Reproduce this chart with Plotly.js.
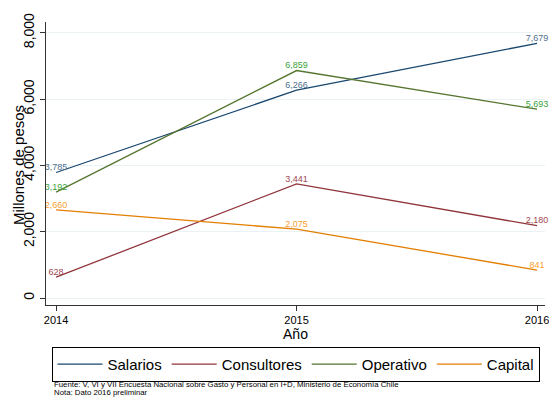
<!DOCTYPE html>
<html>
<head>
<meta charset="utf-8">
<script src="https://cdn.plot.ly/plotly-3.0.1.min.js"></script>
<style>html,body{margin:0;padding:0;background:#fff}#chart{width:549px;height:402px}</style>
</head>
<body>
<div id="chart"></div>
<script>
var years = [2014, 2015, 2016];
var salarios = [3785, 6266, 7679];
var consultores = [628, 3441, 2180];
var operativo = [3192, 6859, 5693];
var capital = [2660, 2075, 841];
var seriesNames = ['Salarios', 'Consultores', 'Operativo', 'Capital'];
var lineColors = ['#1a476f', '#90353b', '#55752f', '#e37e00'];
var labelColors = ['#4f6f8f', '#a0484f', '#3aa33a', '#f5a030'];
var yTicks = [0, 2000, 4000, 6000, 8000];
var yTickText = ['0', '2,000', '4,000', '6,000', '8,000'];
var yTitle = 'Millones de pesos';
var sourceLines = ['Fuente: V, VI y VII Encuesta Nacional sobre Gasto y Personal en I+D, Ministerio de Economía Chile', 'Nota: Dato 2016 preliminar'];

function fmt(v){ return v.toLocaleString('en-US'); }
var allSeries = [salarios, consultores, operativo, capital];
var traces = allSeries.map(function(s, i){
  return {
    x: years, y: s, type: 'scatter', mode: 'lines+text',
    name: seriesNames[i],
    line: {color: lineColors[i], width: 1.3},
    text: s.map(fmt), textposition: 'top center',
    textfont: {family: 'Liberation Sans, Arial, sans-serif', size: 9, color: labelColors[i]},
    cliponaxis: false, hoverinfo: 'skip'
  };
});

var annotations = sourceLines.map(function(t, i){
  return {text: t, xref: 'paper', yref: 'paper', x: 0.012, y: -0.258 - i*0.029,
    xanchor: 'left', yanchor: 'top', showarrow: false,
    font: {size: 7.8, color: '#000'}};
});
annotations.push({text: yTitle, xref: 'paper', yref: 'paper', x: -0.054, y: 0.495,
  xanchor: 'center', yanchor: 'middle', textangle: -90, showarrow: false,
  font: {size: 15, color: '#000'}});

var layout = {
  width: 549, height: 402,
  margin: {l: 46, r: 4, t: 22, b: 97},
  paper_bgcolor: '#ffffff', plot_bgcolor: '#ffffff',
  font: {family: 'Liberation Sans, Arial, sans-serif', color: '#000'},
  showlegend: true,
  xaxis: {
    range: [2013.958, 2016.033], tickvals: years, ticktext: years.map(String),
    ticks: 'outside', ticklen: 5, tickcolor: '#333', tickwidth: 1,
    showline: true, linecolor: '#333', linewidth: 1, showgrid: false, zeroline: false,
    tickfont: {size: 11}, ticklabeloverflow: 'allow',
    title: {text: 'Año', font: {size: 14}, standoff: 1}
  },
  yaxis: {
    range: [-211, 8323], tickvals: yTicks, ticktext: yTickText, tickangle: -90,
    ticks: 'outside', ticklen: 5, tickcolor: '#333', tickwidth: 1,
    showline: true, linecolor: '#333', linewidth: 1,
    showgrid: true, gridcolor: '#eaf2f3', gridwidth: 1, zeroline: false,
    tickfont: {size: 14}, ticklabeloverflow: 'allow'
  },
  legend: {
    orientation: 'h', x: 0.5, xanchor: 'center', y: -0.148, yanchor: 'top',
    bordercolor: '#000', borderwidth: 1, bgcolor: '#fff',
    font: {size: 15}, itemwidth: 45, tracegroupgap: 0
  },
  annotations: annotations
};
Plotly.newPlot('chart', traces, layout, {displayModeBar: false, staticPlot: true});
</script>
</body>
</html>
